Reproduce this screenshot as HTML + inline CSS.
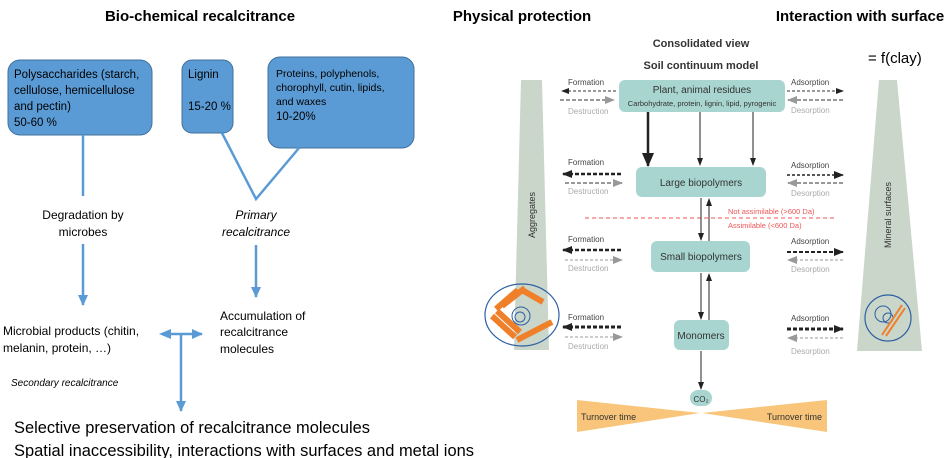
<!DOCTYPE html>
<html><head><meta charset="utf-8"><style>
html,body{margin:0;padding:0;background:#fff;}
svg{display:block;font-family:"Liberation Sans",sans-serif;}
</style></head><body>
<svg width="950" height="458" viewBox="0 0 950 458" xmlns="http://www.w3.org/2000/svg">
<defs>
<marker id="ba" markerWidth="12" markerHeight="12" refX="10" refY="6" orient="auto" markerUnits="userSpaceOnUse"><path d="M0,1 L11,6 L0,11 z" fill="#5b9bd5"/></marker>
<marker id="ka" markerWidth="8" markerHeight="8" refX="7" refY="4" orient="auto" markerUnits="userSpaceOnUse"><path d="M0,1 L8,4 L0,7 z" fill="#222"/></marker>
<marker id="kb" markerWidth="14" markerHeight="14" refX="13" refY="7" orient="auto" markerUnits="userSpaceOnUse"><path d="M0,1 L14,7 L0,13 z" fill="#222"/></marker>
<marker id="kc" markerWidth="10" markerHeight="10" refX="9" refY="5" orient="auto" markerUnits="userSpaceOnUse"><path d="M0,1 L10,5 L0,9 z" fill="#222"/></marker>
<marker id="gc" markerWidth="10" markerHeight="10" refX="9" refY="5" orient="auto" markerUnits="userSpaceOnUse"><path d="M0,1 L10,5 L0,9 z" fill="#999"/></marker>
</defs>
<g font-weight="bold" font-size="15" fill="#000">
<text x="200" y="21" text-anchor="middle">Bio-chemical recalcitrance</text>
<text x="522" y="21" text-anchor="middle">Physical protection</text>
<text x="860" y="21" text-anchor="middle">Interaction with surface</text>
</g>
<g fill="#5b9bd5" stroke="#41719c" stroke-width="1">
<rect x="8" y="60" width="144" height="75" rx="12"/>
<rect x="182" y="60" width="51" height="73" rx="10"/>
<rect x="268" y="57" width="146" height="91" rx="12"/>
</g>
<g font-size="11.5" fill="#000">
<text x="14" y="78">Polysaccharides (starch,</text>
<text x="14" y="94">cellulose, hemicellulose</text>
<text x="14" y="110">and pectin)</text>
<text x="14" y="126">50-60 %</text>
<text x="188" y="78">Lignin</text>
<text x="188" y="110">15-20 %</text>
</g>
<g font-size="10.5" fill="#000">
<text x="276" y="77">Proteins, polyphenols,</text>
<text x="276" y="91">chorophyll, cutin, lipids,</text>
<text x="276" y="105">and waxes</text>
<text x="276" y="120" font-size="11.5">10-20%</text>
</g>
<g stroke="#5b9bd5" stroke-width="2.5" fill="none">
<line x1="83" y1="135" x2="83" y2="196"/>
<line x1="83" y1="244" x2="83" y2="305" marker-end="url(#ba)"/>
<polyline points="222,133 256,199 299,148"/>
<line x1="256" y1="245" x2="256" y2="297" marker-end="url(#ba)"/>
<line x1="162" y1="334" x2="202" y2="334" marker-end="url(#ba)"/>
<line x1="181" y1="334" x2="181" y2="411" marker-end="url(#ba)"/>
</g>
<path d="M171,329 L159,334 L171,339 z" fill="#5b9bd5"/>
<g font-size="12" fill="#000">
<text x="83" y="219" text-anchor="middle">Degradation by</text>
<text x="83" y="236" text-anchor="middle">microbes</text>
<text x="256" y="219" text-anchor="middle" font-style="italic">Primary</text>
<text x="256" y="236" text-anchor="middle" font-style="italic">recalcitrance</text>
<text x="220" y="320">Accumulation of</text>
<text x="220" y="336">recalcitrance</text>
<text x="220" y="353">molecules</text>
<text x="3" y="335">Microbial products (chitin,</text>
<text x="3" y="352">melanin, protein, …)</text>
<text x="11" y="386" font-size="10" font-style="italic">Secondary recalcitrance</text>
</g>
<g font-size="17" fill="#000">
<text x="14" y="433" textLength="356" lengthAdjust="spacingAndGlyphs">Selective preservation of recalcitrance molecules</text>
<text x="14" y="456" textLength="460" lengthAdjust="spacingAndGlyphs">Spatial inaccessibility, interactions with surfaces and metal ions</text>
</g>
<text x="701" y="47" font-size="11" font-weight="bold" fill="#333" text-anchor="middle">Consolidated view</text>
<text x="701" y="69" font-size="11" font-weight="bold" fill="#333" text-anchor="middle">Soil continuum model</text>
<text x="868" y="63" font-size="15" fill="#000">= f(clay)</text>
<polygon points="521,80 542,80 549,350 514,350" fill="#c9d6c9"/>
<polygon points="879,80 897,80 922,351 857,351" fill="#c9d6c9"/>
<text transform="translate(535,215) rotate(-90)" font-size="9" fill="#333" text-anchor="middle">Aggregates</text>
<text transform="translate(891,215) rotate(-90)" font-size="9" fill="#333" text-anchor="middle">Mineral surfaces</text>
<g fill="#a8d5d0">
<rect x="619" y="80" width="166" height="32" rx="6"/>
<rect x="636" y="167" width="130" height="30" rx="6"/>
<rect x="651" y="241" width="99" height="31" rx="6"/>
<rect x="674" y="320" width="55" height="30" rx="6"/>
<rect x="690" y="390" width="22" height="16" rx="8"/>
</g>
<g fill="#333" text-anchor="middle">
<text x="702" y="93" font-size="10">Plant, animal residues</text>
<text x="702" y="106" font-size="7.5">Carbohydrate, protein, lignin, lipid, pyrogenic</text>
<text x="701" y="186" font-size="10">Large biopolymers</text>
<text x="701" y="260" font-size="10">Small biopolymers</text>
<text x="701" y="339" font-size="10">Monomers</text>
<text x="701" y="402" font-size="8">CO₂</text>
</g>
<polygon points="577,400 700,413 577,432" fill="#f8c57a"/>
<polygon points="827,400 702,413 827,432" fill="#f8c57a"/>
<text x="581" y="420" font-size="9" fill="#333">Turnover time</text>
<text x="822" y="420" font-size="9" fill="#333" text-anchor="end">Turnover time</text>
<line x1="585" y1="218" x2="836" y2="218" stroke="#e55" stroke-width="1" stroke-dasharray="4,3"/>
<text x="728" y="214" font-size="7.5" fill="#e55">Not assimilable (&gt;600 Da)</text>
<text x="728" y="228" font-size="7.5" fill="#e55">Assimilable (&lt;600 Da)</text>
<g stroke="#222" fill="none">
<line x1="648" y1="112" x2="648" y2="166" stroke-width="2.5" marker-end="url(#kb)"/>
<line x1="700" y1="112" x2="700" y2="165" stroke-width="1" marker-end="url(#ka)"/>
<line x1="753" y1="112" x2="753" y2="165" stroke-width="1" marker-end="url(#ka)"/>
<line x1="701" y1="198" x2="701" y2="240" stroke-width="1" marker-end="url(#ka)"/>
<line x1="709" y1="241" x2="709" y2="199" stroke-width="1" marker-end="url(#ka)"/>
<line x1="701" y1="273" x2="701" y2="319" stroke-width="1" marker-end="url(#ka)"/>
<line x1="709" y1="320" x2="709" y2="274" stroke-width="1" marker-end="url(#ka)"/>
<line x1="701" y1="351" x2="701" y2="389" stroke-width="1" marker-end="url(#ka)"/>
</g>
<g font-size="8" fill="#444">
<text x="568" y="85">Formation</text><text x="568" y="114" fill="#aaa">Destruction</text>
<text x="568" y="165">Formation</text><text x="568" y="194" fill="#aaa">Destruction</text>
<text x="568" y="242">Formation</text><text x="568" y="271" fill="#aaa">Destruction</text>
<text x="568" y="320">Formation</text><text x="568" y="349" fill="#aaa">Destruction</text>
<text x="791" y="85">Adsorption</text><text x="791" y="113" fill="#aaa">Desorption</text>
<text x="791" y="168">Adsorption</text><text x="791" y="196" fill="#aaa">Desorption</text>
<text x="791" y="244">Adsorption</text><text x="791" y="272" fill="#aaa">Desorption</text>
<text x="791" y="321">Adsorption</text><text x="791" y="354" fill="#aaa">Desorption</text>
</g>
<g fill="none">
<line x1="616" y1="91" x2="562" y2="91" stroke="#333" stroke-width="1" stroke-dasharray="3,2" marker-end="url(#ka)"/>
<line x1="560" y1="100" x2="614" y2="100" stroke="#999" stroke-width="2" stroke-dasharray="4,2" marker-end="url(#gc)"/>
<line x1="621" y1="174" x2="563" y2="174" stroke="#222" stroke-width="2.5" stroke-dasharray="4,2" marker-end="url(#kc)"/>
<line x1="565" y1="183" x2="622" y2="183" stroke="#999" stroke-width="2" stroke-dasharray="4,2" marker-end="url(#gc)"/>
<line x1="621" y1="250" x2="563" y2="250" stroke="#222" stroke-width="2.5" stroke-dasharray="4,2" marker-end="url(#kc)"/>
<line x1="565" y1="260" x2="622" y2="260" stroke="#999" stroke-width="1" stroke-dasharray="3,2" marker-end="url(#gc)"/>
<line x1="621" y1="327" x2="563" y2="327" stroke="#222" stroke-width="3" stroke-dasharray="4,2" marker-end="url(#kc)"/>
<line x1="565" y1="337" x2="622" y2="337" stroke="#999" stroke-width="1" stroke-dasharray="3,2" marker-end="url(#gc)"/>
<line x1="787" y1="91" x2="843" y2="91" stroke="#333" stroke-width="1" stroke-dasharray="3,2" marker-end="url(#ka)"/>
<line x1="843" y1="100" x2="788" y2="100" stroke="#999" stroke-width="2" stroke-dasharray="4,2" marker-end="url(#gc)"/>
<line x1="787" y1="175" x2="843" y2="175" stroke="#222" stroke-width="1.5" stroke-dasharray="3,2" marker-end="url(#kc)"/>
<line x1="843" y1="183" x2="788" y2="183" stroke="#999" stroke-width="2" stroke-dasharray="4,2" marker-end="url(#gc)"/>
<line x1="787" y1="252" x2="843" y2="252" stroke="#222" stroke-width="2" stroke-dasharray="4,2" marker-end="url(#kc)"/>
<line x1="843" y1="260" x2="788" y2="260" stroke="#999" stroke-width="1" stroke-dasharray="3,2" marker-end="url(#gc)"/>
<line x1="787" y1="329" x2="843" y2="329" stroke="#222" stroke-width="3" stroke-dasharray="4,2" marker-end="url(#kc)"/>
<line x1="843" y1="338" x2="788" y2="338" stroke="#999" stroke-width="1" stroke-dasharray="3,2" marker-end="url(#gc)"/>
</g>
<ellipse cx="522" cy="315" rx="37" ry="31" fill="none" stroke="#2e5fa3" stroke-width="1.2"/>
<g stroke="#f07f2a" stroke-width="6" fill="none">
<line x1="496" y1="309" x2="518" y2="290"/>
<line x1="502" y1="306" x2="525" y2="288"/>
<line x1="492" y1="316" x2="515" y2="337"/>
<line x1="497" y1="311" x2="520" y2="332"/>
<line x1="517" y1="340" x2="552" y2="322"/>
<line x1="522" y1="290" x2="543" y2="302"/>
</g>
<circle cx="521" cy="316" r="9" fill="none" stroke="#2e5fa3" stroke-width="1"/>
<circle cx="520" cy="317" r="5" fill="none" stroke="#2e5fa3" stroke-width="1"/>
<circle cx="888" cy="318" r="23" fill="none" stroke="#2e5fa3" stroke-width="1.2"/>
<circle cx="883" cy="314" r="8" fill="none" stroke="#2e5fa3" stroke-width="1"/>
<circle cx="888" cy="318" r="5" fill="none" stroke="#2e5fa3" stroke-width="1"/>
<line x1="902" y1="305" x2="882" y2="335" stroke="#f07f2a" stroke-width="2"/>
<line x1="905" y1="308" x2="886" y2="336" stroke="#f07f2a" stroke-width="2"/>
</svg>
</body></html>
